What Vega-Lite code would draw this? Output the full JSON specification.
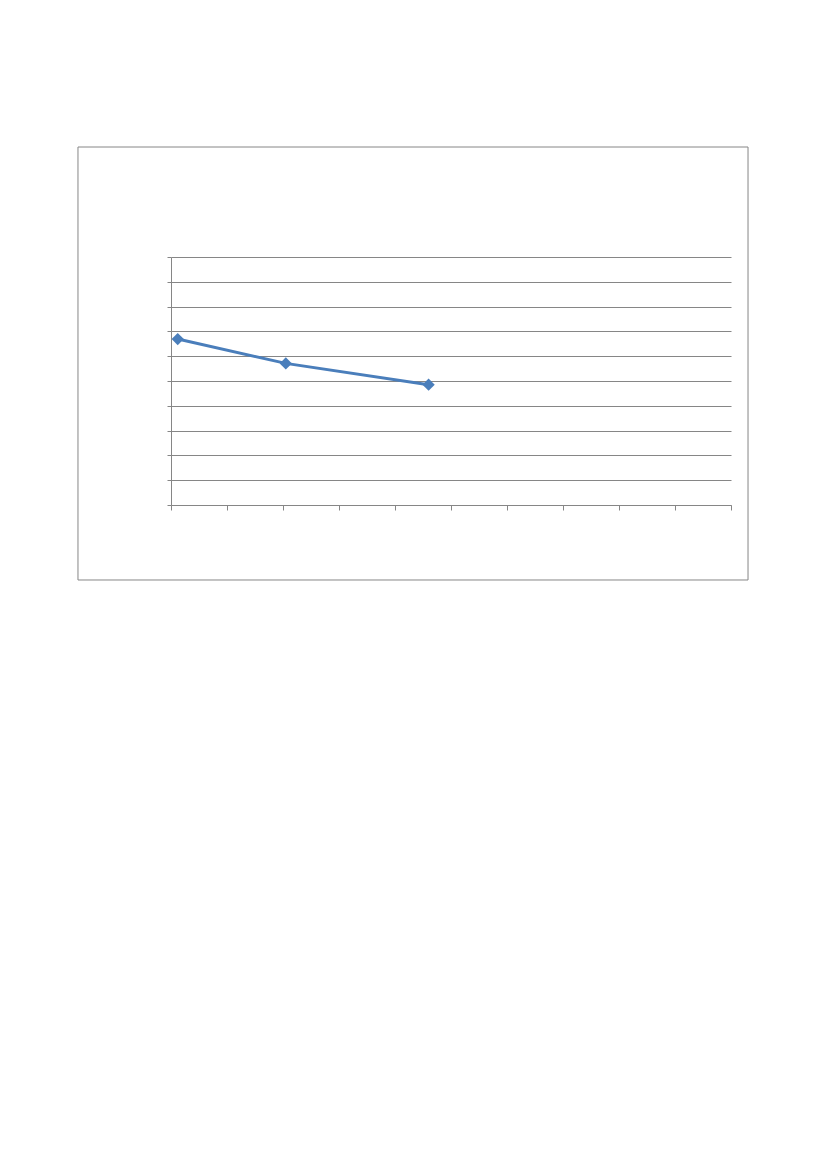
{
  "$schema": "https://vega.github.io/schema/vega-lite/v6.json",
  "width": 560,
  "height": 248,
  "autosize": {"type": "none"},
  "padding": {"left": 171, "top": 257, "right": 96, "bottom": 664},
  "background": "white",
  "config": {"view": {"stroke": null}},
  "resolve": {"axis": {"x": "independent", "y": "independent"}},
  "layer": [
    {
      "data": {
        "values": [
          {"x": 0.12, "y": 6.69},
          {"x": 2.05, "y": 5.71},
          {"x": 4.6, "y": 4.85}
        ]
      },
      "mark": {
        "type": "line",
        "color": "#4A7EBB",
        "strokeWidth": 3,
        "point": {"shape": "diamond", "size": 150, "filled": true, "color": "#4A7EBB"}
      },
      "encoding": {
        "x": {
          "field": "x",
          "type": "quantitative",
          "scale": {"domain": [0, 10], "nice": false},
          "axis": {
            "values": [0, 1, 2, 3, 4, 5, 6, 7, 8, 9, 10],
            "labels": false,
            "title": null,
            "grid": false,
            "domainColor": "#868686",
            "tickColor": "#868686",
            "tickSize": 5
          }
        },
        "y": {
          "field": "y",
          "type": "quantitative",
          "scale": {"domain": [0, 10], "nice": false},
          "axis": {
            "values": [0, 1, 2, 3, 4, 5, 6, 7, 8, 9, 10],
            "labels": false,
            "title": null,
            "grid": true,
            "gridColor": "#868686",
            "gridOpacity": 1,
            "domainColor": "#868686",
            "tickColor": "#868686",
            "tickSize": 4
          }
        }
      }
    },
    {
      "data": {"values": [{"frame": "outer"}]},
      "mark": {"type": "rect", "fill": null, "stroke": "#868686", "strokeWidth": 1},
      "encoding": {
        "x": {"datum": -1.661, "type": "quantitative", "axis": null},
        "x2": {"datum": 10.304},
        "y": {"datum": -3.024, "type": "quantitative", "axis": null},
        "y2": {"datum": 14.435}
      }
    }
  ]
}
